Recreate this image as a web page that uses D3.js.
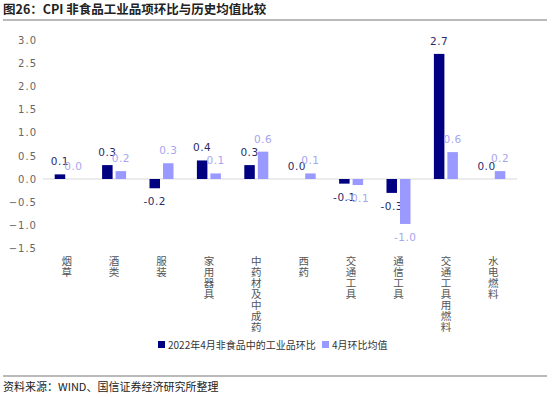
<!DOCTYPE html>
<html>
<head>
<meta charset="utf-8">
<script src="https://cdn.jsdelivr.net/npm/d3@7"></script>
<style>
  body { margin: 0; background: #fff; }
  text { font-family: "Noto Sans CJK SC", "DejaVu Sans", sans-serif; }
</style>
</head>
<body>
<svg id="chart" width="550" height="399"></svg>
<script>
// data
const categories = ["烟草", "酒类", "服装", "家用器具", "中药材及中成药", "西药", "交通工具", "通信工具", "交通工具用燃料", "水电燃料"];
const apr2022 = [0.1, 0.3, -0.2, 0.4, 0.3, 0.0, -0.1, -0.3, 2.7, 0.0];
const aprAvg = [0.0, 0.17, 0.34, 0.12, 0.59, 0.12, -0.13, -0.97, 0.58, 0.17];
const yTicks = [-1.5, -1.0, -0.5, 0.0, 0.5, 1.0, 1.5, 2.0, 2.5, 3.0];
const seriesNames = ["2022年4月非食品中的工业品环比", "4月环比均值"];

const darkC = "#000080", lightC = "#9999ff";

const svg = d3.select("#chart");

// title + rules
svg.append("text").attr("x", 3).attr("y", 14)
  .attr("font-size", 12.5).attr("font-weight", "bold").attr("fill", "#222")
  .text("图26：CPI 非食品工业品项环比与历史均值比较");
svg.append("line").attr("x1", 3).attr("x2", 547).attr("y1", 20).attr("y2", 20)
  .attr("stroke", "#777").attr("stroke-width", 1.2);
svg.append("line").attr("x1", 3).attr("x2", 547).attr("y1", 376).attr("y2", 376)
  .attr("stroke", "#777").attr("stroke-width", 1.2);
svg.append("text").attr("x", 3).attr("y", 391)
  .attr("font-size", 11).attr("fill", "#222")
  .text("资料来源：WIND、国信证券经济研究所整理");

// scales
const x = d3.scaleBand().domain(categories).range([43, 517]);
const y = d3.scaleLinear().domain([-1.5, 3.0]).range([248.5, 40]);

// y axis (labels only)
const yAxis = svg.append("g").attr("transform", "translate(43,0)")
  .call(d3.axisLeft(y).tickValues(yTicks).tickFormat(d3.format(".1f")).tickSize(0).tickPadding(6));
yAxis.select(".domain").remove();
yAxis.selectAll("text").attr("font-size", 10).attr("fill", "#666")
  .attr("letter-spacing", "1px")
  .style("font-family", "'DejaVu Sans', sans-serif");

// zero line
svg.append("line").attr("x1", 43).attr("x2", 517).attr("y1", y(0)).attr("y2", y(0))
  .attr("stroke", "#d9d9d9").attr("stroke-width", 1.2);

const barW = 10.5;
const groups = [
  { vals: apr2022, color: darkC, txt: "#2a2a6a", off: -12 },
  { vals: aprAvg, color: lightC, txt: "#a6a6f0", off: 1.5 }
];

groups.forEach(g => {
  const bars = categories.map((c, i) => ({ c, v: g.vals[i] }));
  svg.append("g").selectAll("rect").data(bars).enter().append("rect")
    .attr("x", d => x(d.c) + x.bandwidth() / 2 + g.off)
    .attr("width", barW)
    .attr("y", d => y(Math.max(0, d.v)))
    .attr("height", d => Math.abs(y(d.v) - y(0)))
    .attr("fill", g.color);
  svg.append("g").selectAll("text").data(bars).enter().append("text")
    .attr("x", d => x(d.c) + x.bandwidth() / 2 + g.off + barW / 2)
    .attr("y", d => d.v >= 0 ? y(d.v) - 9 : y(d.v) + 17)
    .attr("text-anchor", "middle")
    .attr("font-size", 10.5).attr("fill", g.txt)
    .attr("letter-spacing", "0.5px")
    .style("font-family", "'DejaVu Sans', sans-serif")
    .text(d => d3.format(".1f")(d.v).replace("−", "-"));
});

// vertical category labels
svg.append("g").selectAll("text").data(categories).enter().append("text")
  .attr("x", d => x(d) + x.bandwidth() / 2)
  .attr("y", 256)
  .attr("writing-mode", "vertical-rl")
  .style("text-orientation", "upright")
  .attr("letter-spacing", "0.5px")
  .attr("font-size", 10.5).attr("fill", "#555")
  .text(d => d);

// legend
const leg = svg.append("g");
const legX = [158, 322];
seriesNames.forEach((n, i) => {
  leg.append("rect").attr("x", legX[i]).attr("y", 341).attr("width", 7).attr("height", 7)
    .attr("fill", i === 0 ? darkC : lightC);
  leg.append("text").attr("x", legX[i] + 10).attr("y", 348.5)
    .attr("font-size", 10).attr("fill", "#333").text(n);
});
</script>
</body>
</html>
